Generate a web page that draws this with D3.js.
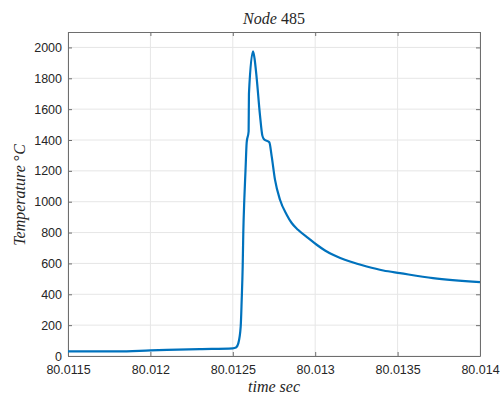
<!DOCTYPE html>
<html>
<head>
<meta charset="utf-8">
<script src="https://cdn.jsdelivr.net/npm/d3@7"></script>
<style>
	body { margin: 0; background: #fff; }
	svg { display: block; }
	.mathlabel { font-family: "Liberation Serif", "DejaVu Serif", serif; font-size: 16px; fill: #262626; }
</style>
</head>
<body>
<svg width="501" height="398"></svg>
<script>
// data
const timeSec = [
	80.01150, 80.01180, 80.01200, 80.01230, 80.01250, 80.0125194, 80.0125334,
	80.0125479, 80.012554, 80.01256, 80.0125637, 80.0125698, 80.012577,
	80.0125843, 80.0125960, 80.0125980, 80.0126226, 80.0126317, 80.012645,
	80.012665, 80.012679, 80.0126893, 80.0127215, 80.012736, 80.012756,
	80.0127864, 80.012827, 80.0128574, 80.0128956, 80.0129581, 80.0130091,
	80.0130595, 80.013108, 80.0132112, 80.0133125, 80.0134132, 80.0135146,
	80.0137148, 80.014
];
const tempC = [
	30, 30, 36, 45, 50, 55, 82,
	190, 364, 580, 797, 1013, 1200,
	1385, 1455, 1700, 1975, 1930, 1800,
	1560, 1430, 1405, 1385, 1294, 1143,
	1013, 916, 862, 818, 764, 721,
	684, 656, 612, 580, 554, 537,
	505, 479
];
const xTicks = [80.0115, 80.012, 80.0125, 80.013, 80.0135, 80.014];
const xTickLabels = ['80.0115', '80.012', '80.0125', '80.013', '80.0135', '80.014'];
const yTicks = [0, 200, 400, 600, 800, 1000, 1200, 1400, 1600, 1800, 2000];

const margin = {left: 68, top: 32, right: 21, bottom: 42},
	width = 501 - margin.left - margin.right,
	height = 398 - margin.top - margin.bottom;

const svg = d3.select('svg');
const chart = svg.append('g')
	.attr('transform', `translate(${margin.left},${margin.top})`);

const xScale = d3.scaleLinear().domain([80.0115, 80.014]).range([0, width]);
const yScale = d3.scaleLinear().domain([0, 2100]).range([height, 0]);

// grid
chart.append('g')
	.selectAll('line')
	.data(xTicks)
	.enter()
	.append('line')
	.attr('x1', d => xScale(d)).attr('x2', d => xScale(d))
	.attr('y1', 0).attr('y2', height)
	.style('stroke', '#e6e6e6');

chart.append('g')
	.selectAll('line')
	.data(yTicks)
	.enter()
	.append('line')
	.attr('y1', d => yScale(d)).attr('y2', d => yScale(d))
	.attr('x1', 0).attr('x2', width)
	.style('stroke', '#e6e6e6');

// axes, ticks pointing inward like matlab
let xAxis = chart.append('g')
	.attr('transform', `translate(0, ${height})`)
	.call(d3.axisBottom(xScale).tickValues(xTicks).tickSizeInner(-4).tickSizeOuter(0)
		.tickPadding(9).tickFormat((d, i) => xTickLabels[i]));

let yAxis = chart.append('g')
	.call(d3.axisLeft(yScale).tickValues(yTicks).tickSizeInner(-4).tickSizeOuter(0)
		.tickPadding(6).tickFormat(d3.format('d')));

let xTop = chart.append('g')
	.call(d3.axisTop(xScale).tickValues(xTicks).tickSizeInner(-4).tickSizeOuter(0).tickFormat(''));

let yRight = chart.append('g')
	.attr('transform', `translate(${width}, 0)`)
	.call(d3.axisRight(yScale).tickValues(yTicks).tickSizeInner(-4).tickSizeOuter(0).tickFormat(''));

[xAxis, yAxis, xTop, yRight].forEach(a => {
	a.attr('font-size', null).attr('font-family', null);
	a.selectAll('.domain').style('stroke', '#6e6e6e');
	a.selectAll('.tick line').style('stroke', '#6e6e6e');
	a.selectAll('.tick text')
		.style('font-family', '"Liberation Sans", Arial, sans-serif')
		.style('font-size', '12.5px')
		.style('fill', '#262626');
});

// the curve
const line = d3.line()
	.x((d, i) => xScale(timeSec[i]))
	.y(d => yScale(d))
	.curve(d3.curveMonotoneX);

chart.append('path')
	.datum(tempC)
	.attr('d', line)
	.style('fill', 'none')
	.style('stroke', '#0072bd')
	.style('stroke-width', 2.2)
	.style('stroke-linejoin', 'round');

// title
let title = svg.append('text')
	.attr('class', 'mathlabel')
	.attr('x', margin.left + width / 2)
	.attr('y', 24)
	.attr('text-anchor', 'middle');
title.append('tspan').style('font-style', 'italic').text('Node ');
title.append('tspan').text('485');

// x label
svg.append('text')
	.attr('class', 'mathlabel')
	.attr('x', margin.left + width / 2)
	.attr('y', 392)
	.attr('text-anchor', 'middle')
	.style('font-style', 'italic')
	.text('time sec');

// y label
let ylab = svg.append('text')
	.attr('class', 'mathlabel')
	.attr('transform', `translate(25, 195) rotate(-90)`)
	.attr('text-anchor', 'middle');
ylab.append('tspan').style('font-style', 'italic').text('Temperature ');
ylab.append('tspan').text('°');
ylab.append('tspan').style('font-style', 'italic').text('C');
</script>
</body>
</html>
